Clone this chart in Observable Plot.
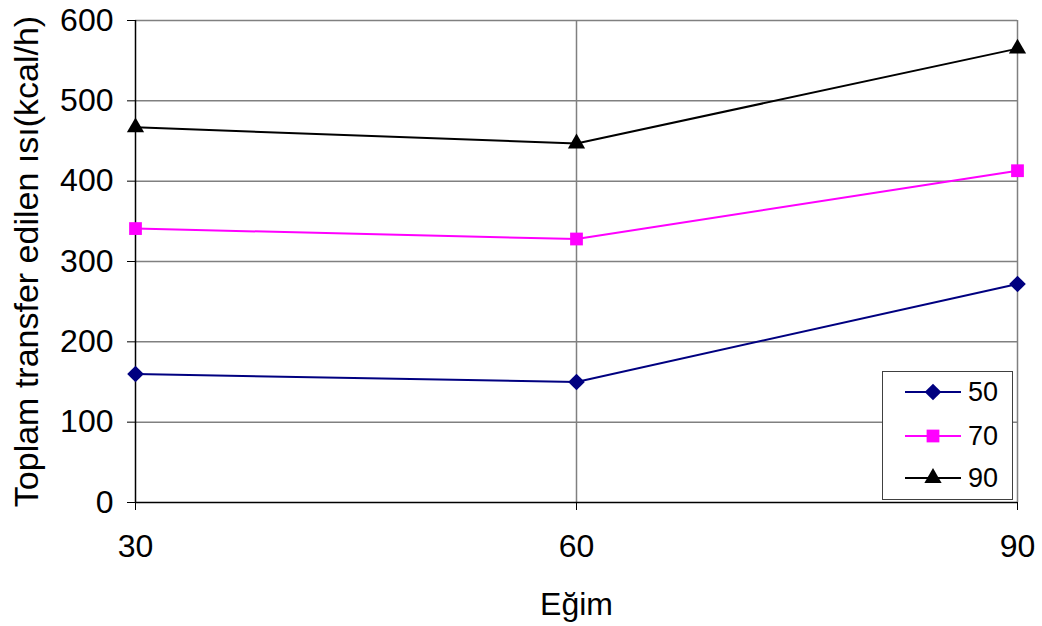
<!DOCTYPE html>
<html>
<head>
<meta charset="utf-8">
<script src="https://cdn.jsdelivr.net/npm/d3@7"></script>
<script src="https://cdn.jsdelivr.net/npm/@observablehq/plot@0.6"></script>
<style>
  html, body { margin: 0; padding: 0; background: #fff; }
  #wrap { position: relative; width: 1042px; height: 626px; font-family: "Liberation Sans", Arial, sans-serif; }
  #legend { position: absolute; left: 882px; top: 371px; width: 131px; height: 129px; border: 1px solid #404040; background: #fff; box-sizing: border-box; }
  .lg { position: absolute; left: 0; height: 30px; display: flex; align-items: center; }
  .lg span { font-size: 27px; color: #000; margin-left: 5px; }
</style>
</head>
<body>
<div id="wrap"></div>
<script>
const slopes = [30, 60, 90];
const seriesNames = ["50", "70", "90"];
const values50 = [160, 150, 272];
const values70 = [341, 328, 413];
const values90 = [467, 447, 565];
const yTicks = [0, 100, 200, 300, 400, 500, 600];
const xTitle = "Eğim";
const yTitle = "Toplam transfer edilen ısı(kcal/h)";
const colors = ["#000080", "#FF00FF", "#000000"];
const symbols = ["diamond2", "square", "triangle"];
const symbolR = [7.5, 7.2, 6.4];

const allValues = [values50, values70, values90];
const data = [];
seriesNames.forEach((s, i) => {
  slopes.forEach((x, j) => data.push({series: s, x, y: allValues[i][j], r: symbolR[i]}));
});

const fs = 32;
const chart = Plot.plot({
  width: 1042,
  height: 626,
  marginLeft: 135,
  marginRight: 25,
  marginTop: 20,
  marginBottom: 124,
  style: {fontFamily: "Liberation Sans, Arial, sans-serif", fontSize: fs + "px", color: "#000", background: "#fff"},
  x: {domain: [30, 90]},
  y: {domain: [0, 600]},
  r: {type: "identity"},
  color: {domain: seriesNames, range: colors},
  symbol: {domain: seriesNames, range: symbols},
  marks: [
    Plot.ruleY(yTicks.filter(d => d > 0), {stroke: "#808080", strokeWidth: 1.5}),
    Plot.ruleX(slopes.filter(d => d > 30), {stroke: "#808080", strokeWidth: 1.5}),
    Plot.ruleX([30], {stroke: "#000", strokeWidth: 1.5}),
    Plot.ruleY([0], {stroke: "#000", strokeWidth: 1.5}),
    Plot.axisY({ticks: yTicks, tickSize: 8, tickPadding: 14, fontSize: fs, label: null}),
    Plot.axisX({ticks: slopes, tickSize: 8, tickPadding: 24, fontSize: fs, label: null}),
    Plot.text([yTitle], {frameAnchor: "left", rotate: -90, dx: -108, fontSize: 34, lineAnchor: "middle", textAnchor: "middle", fill: "#000"}),
    Plot.text([xTitle], {frameAnchor: "bottom", dy: 102, fontSize: 32, lineAnchor: "middle", textAnchor: "middle", fill: "#000"}),
    Plot.line(data, {x: "x", y: "y", z: "series", stroke: "series", strokeWidth: 2}),
    Plot.dot(data, {x: "x", y: "y", fill: "series", symbol: "series", r: "r", stroke: "none"})
  ]
});
const wrap = document.getElementById("wrap");
wrap.appendChild(chart);

// legend
const legend = document.createElement("div");
legend.id = "legend";
const rowTops = [5, 49, 91];
const symMap = {diamond2: d3.symbolDiamond2, square: d3.symbolSquare, triangle: d3.symbolTriangle};
seriesNames.forEach((s, i) => {
  const row = document.createElement("div");
  row.className = "lg";
  row.style.top = rowTops[i] + "px";
  const svg = d3.create("svg").attr("width", 80).attr("height", 30);
  svg.append("line").attr("x1", 22).attr("x2", 78).attr("y1", 15).attr("y2", 15).attr("stroke", colors[i]).attr("stroke-width", 2);
  svg.append("path").attr("transform", "translate(50,15)")
    .attr("d", d3.symbol(symMap[symbols[i]], Math.PI * symbolR[i] * symbolR[i])())
    .attr("fill", colors[i]);
  row.appendChild(svg.node());
  const sp = document.createElement("span");
  sp.textContent = s;
  row.appendChild(sp);
  legend.appendChild(row);
});
wrap.appendChild(legend);
</script>
</body>
</html>
